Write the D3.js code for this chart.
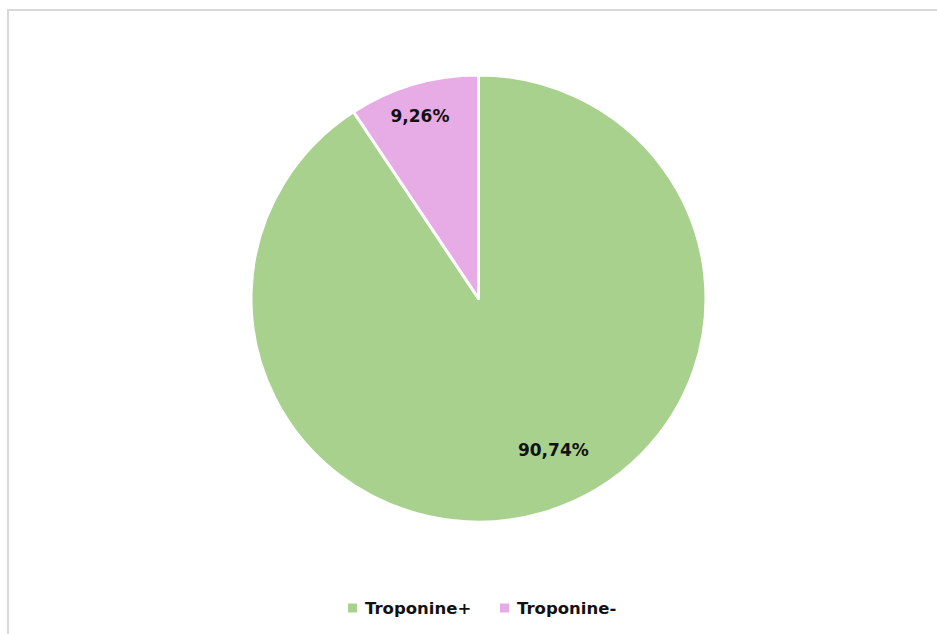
<!DOCTYPE html>
<html>
<head>
<meta charset="utf-8">
<script src="https://cdn.jsdelivr.net/npm/d3@7"></script>
<style>
  html, body { margin: 0; padding: 0; background: #fff; }
  svg { display: block; }
</style>
</head>
<body>
<svg id="chart" width="937" height="634"></svg>
<script>
// Troponin status share
const categories = ["Troponine+", "Troponine-"];
const values = [90.74, 9.26];
const labels = ["90,74%", "9,26%"];
const colors = ["#a9d18e", "#e7abe5"];

const svg = d3.select("#chart");
const W = 937, H = 634;

// chart area frame
svg.append("rect")
  .attr("x", 8).attr("y", 10)
  .attr("width", W + 20).attr("height", H + 20)
  .attr("fill", "#fff")
  .attr("stroke", "#d9d9d9")
  .attr("stroke-width", 2);

const cx = 478.5, cy = 298.5, R = 227.5, squash = 223.5 / 227.5;
const font = "'DejaVu Sans', Verdana, sans-serif";

const pie = d3.pie().sort(null).value(d => d.v)
  .startAngle(0).endAngle(2 * Math.PI);
const data = categories.map((c, i) => ({ c, v: values[i], label: labels[i], color: colors[i] }));
const arcs = pie(data);

const arc = d3.arc().innerRadius(0).outerRadius(R);

const g = svg.append("g").attr("transform", `translate(${cx},${cy})`);

g.append("g")
  .attr("transform", `scale(1,${squash})`)
  .selectAll("path.slice")
  .data(arcs)
  .join("path")
  .attr("class", "slice")
  .attr("d", arc)
  .attr("fill", d => d.data.color)
  .attr("stroke", "#fff")
  .attr("stroke-width", 3)
  .attr("stroke-linejoin", "round");

// data labels placed inside each slice
const labelPos = d => {
  const mid = (d.startAngle + d.endAngle) / 2;
  const big = (d.endAngle - d.startAngle) > Math.PI;
  const a = big ? mid - 0.16 : mid - 0.015;
  const r = big ? R * 0.755 : R * 0.855;
  return [r * Math.sin(a), -r * Math.cos(a) * squash];
};

g.selectAll("text.lbl")
  .data(arcs)
  .join("text")
  .attr("class", "lbl")
  .attr("x", d => labelPos(d)[0])
  .attr("y", d => labelPos(d)[1])
  .attr("text-anchor", "middle")
  .attr("dominant-baseline", "central")
  .attr("font-family", font)
  .attr("font-weight", "bold")
  .attr("font-size", 17)
  .attr("fill", "#111")
  .text(d => d.data.label);

// legend
const legend = svg.append("g");
const legendX = [348, 500];
const legendY = 608;
data.forEach((d, i) => {
  legend.append("rect")
    .attr("x", legendX[i]).attr("y", legendY - 4.5)
    .attr("width", 9).attr("height", 9)
    .attr("fill", d.color);
  legend.append("text")
    .attr("x", legendX[i] + 17).attr("y", legendY)
    .attr("dominant-baseline", "central")
    .attr("font-family", font)
    .attr("font-weight", "bold")
    .attr("font-size", 16.5)
    .attr("fill", "#111")
    .text(d.c);
});
</script>
</body>
</html>
